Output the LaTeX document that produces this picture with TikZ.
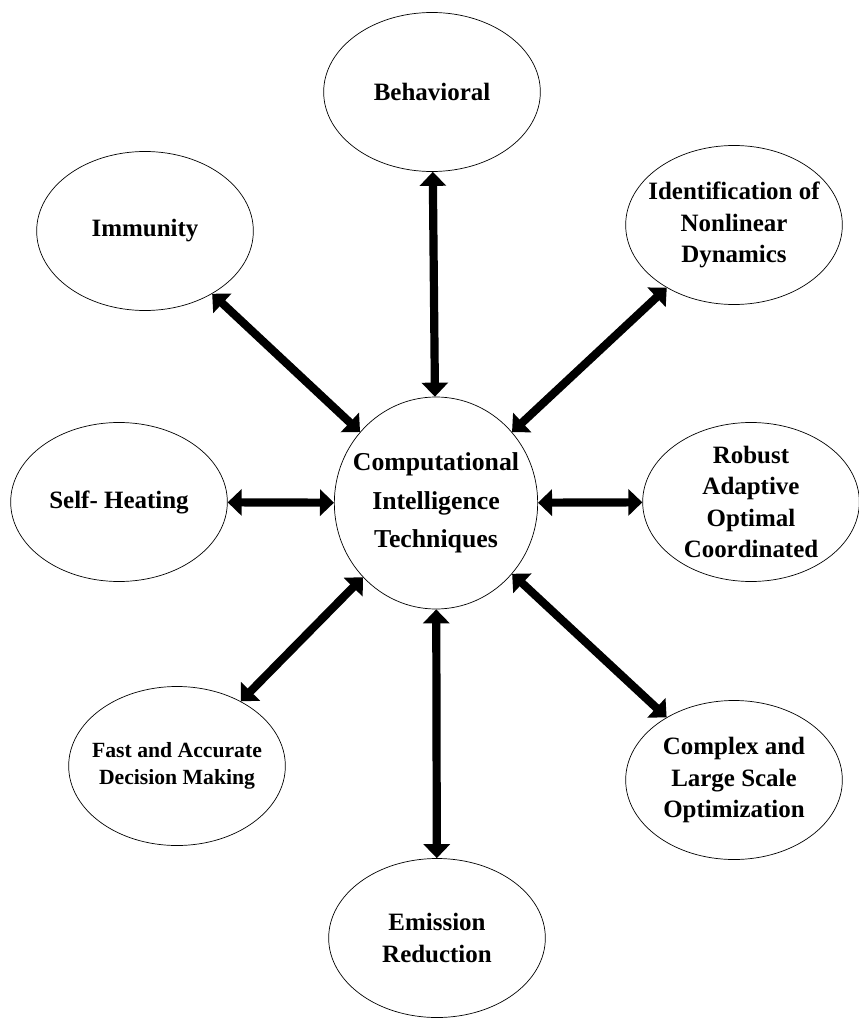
\documentclass[tikz,border=0pt]{standalone}
\usepackage{fontspec}
\setmainfont{Liberation Serif}
\usetikzlibrary{arrows.meta,shapes.geometric}

\begin{document}
\begin{tikzpicture}[
	x=0.03cm,
	y=-0.03cm,
	topic/.style={
		draw,
		ellipse,
		line width=.6pt,
		inner sep=-.4cm,
		minimum width=6.5cm,
		minimum height=4.77cm,
		align=center,
		font=\fontsize{21.3}{27}\selectfont\bfseries
	},
	hub/.style={
		topic,
		minimum width=6.1cm,
		minimum height=6.36cm,
		font=\fontsize{22}{33}\selectfont\bfseries
	},
	link/.style={
		{Triangle[length=.42cm,width=.78cm]}-{Triangle[length=.42cm,width=.78cm]},
		line width=7pt
	}
	]
	
	\useasboundingbox (0,0) rectangle (858,1018);
	
	\node[hub] (CI) at (436,503) {Computational\\Intelligence\\Techniques};
	
	\node[topic] (Beh) at (432,92) {Behavioral};
	\node[topic] (Imm) at (145,231) {Immunity};
	\node[topic] (Ide) at (734,225) {Identification of\\Nonlinear\\Dynamics};
	\node[topic] (Sel) at (119,502) {Self- Heating};
	\node[topic] (Rob) at (751,502) {Robust\\Adaptive\\Optimal\\Coordinated};
	\node[topic,font=\fontsize{18.5}{23}\selectfont\bfseries] (Fas) at (177,766) {Fast and Accurate\\Decision Making};
	\node[topic] (Emi) at (437,938) {Emission\\Reduction};
	\node[topic] (Com) at (734,780) {Complex and\\Large Scale\\Optimization};
	
	\draw[link] (Beh) -- (CI);
	\draw[link] (Imm) -- (CI);
	\draw[link] (Ide) -- (CI);
	\draw[link] (Sel) -- (CI);
	\draw[link] (Rob) -- (CI);
	\draw[link] (Fas) -- (CI);
	\draw[link] (Emi) -- (CI);
	\draw[link] (Com) -- (CI);
	
\end{tikzpicture}
\end{document}
